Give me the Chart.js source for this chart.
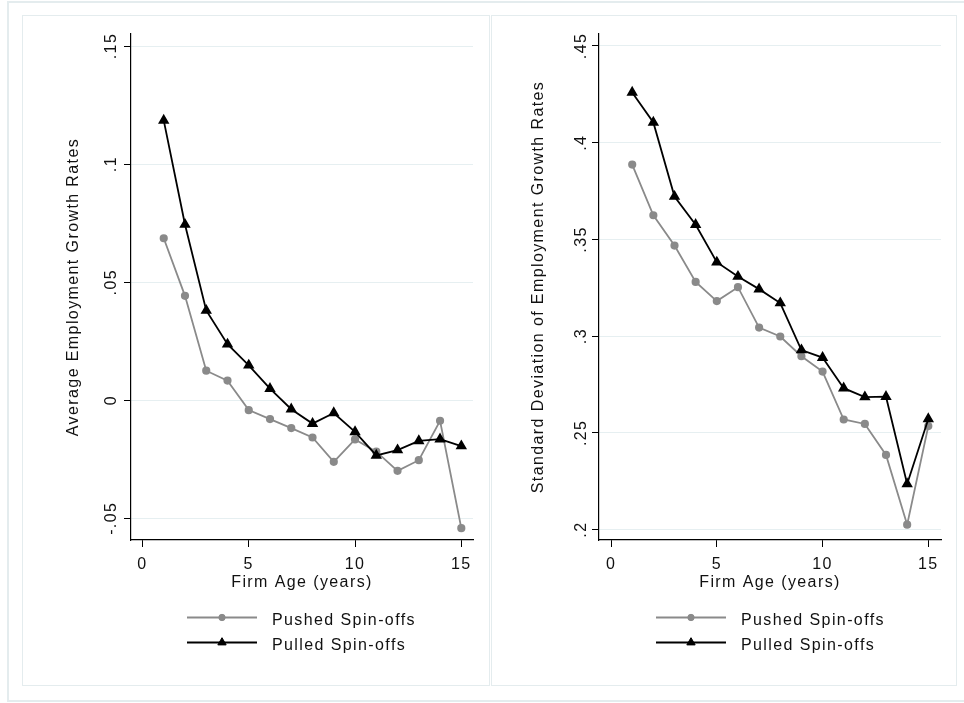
<!DOCTYPE html>
<html>
<head>
<meta charset="utf-8">
<script src="https://cdn.jsdelivr.net/npm/chart.js@4.4.1/dist/chart.umd.min.js"></script>
<style>
  body { margin: 0; background: #fff; }
  #page { position: relative; width: 964px; height: 703px; overflow: hidden; background: #fff; }
  .frame { position: absolute; border: 1px solid #e4ecee; box-sizing: border-box; }
  canvas { position: absolute; }
</style>
</head>
<body>
<div id="page">
  <div class="frame" style="left:7px; top:1px; width:980px; height:701px; border-width:2px;"></div>
  <div class="frame" style="left:22px; top:15px; width:468px; height:671px;"></div>
  <div class="frame" style="left:491px; top:15px; width:466px; height:671px;"></div>
  <canvas id="avgChart" width="467" height="669" style="left:22px; top:16px;"></canvas>
  <canvas id="sdChart" width="465" height="669" style="left:491px; top:16px;"></canvas>
</div>
<script>
const ages = [1, 2, 3, 4, 5, 6, 7, 8, 9, 10, 11, 12, 13, 14, 15];

// average employment growth rates
const avgPushed = [0.0686, 0.0442, 0.0125, 0.0083, -0.0042, -0.0080, -0.0118, -0.0158, -0.0261, -0.0166, -0.0218, -0.0299, -0.0254, -0.0087, -0.0542];
const avgPulled = [0.1185, 0.0744, 0.0380, 0.0237, 0.0148, 0.0049, -0.0038, -0.0099, -0.0054, -0.0134, -0.0234, -0.0211, -0.0172, -0.0165, -0.0194];

// standard deviation of employment growth rates
const sdPushed = [0.3887, 0.3625, 0.3468, 0.3280, 0.3181, 0.3253, 0.3044, 0.2998, 0.2896, 0.2817, 0.2569, 0.2546, 0.2386, 0.2025, 0.2535];
const sdPulled = [0.4260, 0.4105, 0.3722, 0.3576, 0.3382, 0.3308, 0.3243, 0.3171, 0.2928, 0.2889, 0.2731, 0.2685, 0.2687, 0.2236, 0.2572];

const xTicks = [0, 5, 10, 15];
const xTickLabels = ['0', '5', '10', '15'];
const avgTicks = [-0.05, 0, 0.05, 0.1, 0.15];
const avgTickLabels = ['-.05', '0', '.05', '.1', '.15'];
const sdTicks = [0.2, 0.25, 0.3, 0.35, 0.4, 0.45];
const sdTickLabels = ['.2', '.25', '.3', '.35', '.4', '.45'];

const seriesNames = ['Pushed Spin-offs', 'Pulled Spin-offs'];

const FONT = { family: "'Liberation Sans', Arial, sans-serif", size: 16 };
const SPACING = '1.4px';

const spacingPlugin = {
    id: 'spacing',
    beforeLayout: (chart) => { chart.ctx.letterSpacing = SPACING; },
    beforeDraw: (chart) => { chart.ctx.letterSpacing = SPACING; }
};

// Stata style legend: short line with marker in the middle, stacked rows
const legendPlugin = {
    id: 'stataLegend',
    afterDraw: (chart) => {
        const ctx = chart.ctx;
        const x1 = 165, x2 = 235, textX = 250;
        const rows = [601.5, 626.5];
        ctx.save();
        ctx.letterSpacing = SPACING;
        chart.data.datasets.forEach((ds, i) => {
            const y = rows[i];
            ctx.beginPath();
            ctx.moveTo(x1, y);
            ctx.lineTo(x2, y);
            ctx.lineWidth = ds.borderWidth;
            ctx.strokeStyle = ds.borderColor;
            ctx.stroke();
            ctx.fillStyle = ds.pointBackgroundColor;
            ctx.strokeStyle = ds.borderColor;
            ctx.lineWidth = 1;
            Chart.helpers.drawPoint(ctx, {
                pointStyle: ds.pointStyle,
                radius: ds.pointRadius,
                rotation: 0,
                borderWidth: 1
            }, (x1 + x2) / 2, y);
            ctx.fillStyle = '#111';
            ctx.font = FONT.size + 'px ' + FONT.family;
            ctx.textAlign = 'left';
            ctx.textBaseline = 'middle';
            ctx.fillText(ds.label, textX, y + 3.5);
        });
        ctx.restore();
    }
};

function makeChart(id, pushed, pulled, yTicks, yLabels, opts) {
    const canvas = document.getElementById(id);
    return new Chart(canvas, {
        type: 'line',
        data: {
            datasets: [{
                label: seriesNames[0],
                data: ages.map((a, i) => ({ x: a, y: pushed[i] })),
                borderColor: '#8a8a8a',
                backgroundColor: '#8a8a8a',
                pointBackgroundColor: '#8a8a8a',
                pointBorderColor: '#8a8a8a',
                pointStyle: 'circle',
                pointRadius: 3.2,
                borderWidth: 1.8,
                tension: 0,
                order: 1
            }, {
                label: seriesNames[1],
                data: ages.map((a, i) => ({ x: a, y: pulled[i] })),
                borderColor: '#000',
                backgroundColor: '#000',
                pointBackgroundColor: '#000',
                pointBorderColor: '#000',
                pointStyle: 'triangle',
                pointRadius: 4.8,
                borderWidth: 1.8,
                tension: 0,
                order: 0
            }]
        },
        options: {
            responsive: false,
            animation: false,
            devicePixelRatio: 1,
            layout: { padding: { left: 0, top: 18, right: opts.right, bottom: 0 } },
            plugins: {
                legend: { display: false },
                tooltip: { enabled: false }
            },
            scales: {
                x: {
                    type: 'linear',
                    min: opts.xMin,
                    max: opts.xMax,
                    afterBuildTicks: (s) => { s.ticks = xTicks.map(v => ({ value: v })); },
                    afterFit: (s) => { s.height = 145; },
                    grid: { drawOnChartArea: false, tickColor: '#000', tickLength: 7 },
                    border: { color: '#000', width: 1.2 },
                    ticks: {
                        padding: 8,
                        color: '#111',
                        font: FONT,
                        maxRotation: 0,
                        callback: (v) => xTickLabels[xTicks.indexOf(v)]
                    },
                    title: {
                        display: true,
                        text: 'Firm Age (years)',
                        color: '#111',
                        font: FONT,
                        padding: { top: 0, bottom: 93 }
                    }
                },
                y: {
                    type: 'linear',
                    min: opts.yMin,
                    max: opts.yMax,
                    afterBuildTicks: (s) => { s.ticks = yTicks.map(v => ({ value: v })); },
                    afterFit: (s) => { s.width = opts.axisLeft; },
                    grid: { color: '#e6eff1', lineWidth: 1, tickColor: '#000', tickLength: 7 },
                    border: { color: '#000', width: 1.2 },
                    ticks: {
                        padding: opts.tickPad,
                        color: '#111',
                        font: FONT,
                        minRotation: 90,
                        maxRotation: 90,
                        crossAlign: 'center',
                        callback: (v) => yLabels[yTicks.indexOf(v)]
                    },
                    title: {
                        display: true,
                        text: opts.yTitle,
                        color: '#111',
                        font: FONT,
                        padding: { top: opts.titlePad, bottom: 0 }
                    }
                }
            }
        },
        plugins: [spacingPlugin, legendPlugin]
    });
}

makeChart('avgChart', avgPushed, avgPulled, avgTicks, avgTickLabels, {
    xMin: -0.54, xMax: 15.55, yMin: -0.0592, yMax: 0.1551,
    axisLeft: 109, right: 16, tickPad: -4, titlePad: 42,
    yTitle: 'Average Employment Growth Rates'
});

makeChart('sdChart', sdPushed, sdPulled, sdTicks, sdTickLabels, {
    xMin: -0.57, xMax: 15.6, yMin: 0.1946, yMax: 0.4562,
    axisLeft: 108, right: 15, tickPad: -3, titlePad: 38,
    yTitle: 'Standard Deviation of Employment Growth Rates'
});
</script>
</body>
</html>
